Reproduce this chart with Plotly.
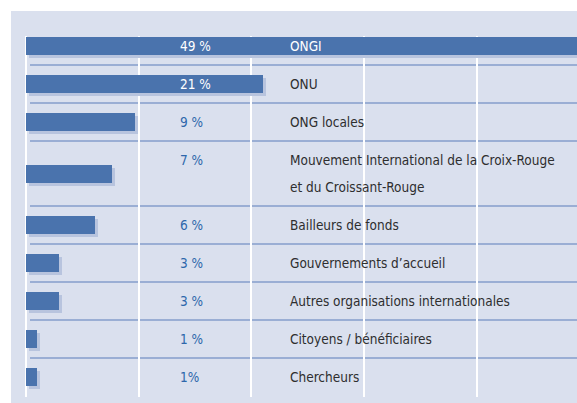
import plotly.graph_objects as go

# ---- data ----
categories = [
    "ONGI",
    "ONU",
    "ONG locales",
    "Mouvement International de la Croix-Rouge<br>et du Croissant-Rouge",
    "Bailleurs de fonds",
    "Gouvernements d’accueil",
    "Autres organisations internationales",
    "Citoyens / bénéficiaires",
    "Chercheurs",
]
values = [49, 21, 9.7, 7.6, 6.1, 2.9, 2.9, 1.0, 1.0]
value_labels = ["49 %", "21 %", "9 %", "7 %", "6 %", "3 %", "3 %", "1 %", "1%"]

# ---- layout geometry (pixels) ----
W, H = 577, 403
PANEL_X0, PANEL_Y0 = 11, 11
PLOT_X0 = 26
PX_PER_PCT = 11.27
X_MAX = (W - PLOT_X0) / PX_PER_PCT
Y_TOP, Y_BOT = 36, 397
FIRST_ROW_TOP = 27
LINE_H = 38
EXTRA_LINE_H = 27
BAR_H = 18
SHADOW = 3
PCT_X = 178
LABEL_X = 288

BG = "#dae0ee"
BAR = "#4a73ad"
SHADOW_C = "#b8c4de"
SEP = "#9aaed4"
PCT_BLUE = "#2d67ab"
TXT = "#2e2e2e"
FONT = "DejaVu Sans"
FS = 13.5

# rows
tops, heights = [], []
y = FIRST_ROW_TOP
for c in categories:
    n = c.count("<br>") + 1
    h = LINE_H + (n - 1) * EXTRA_LINE_H
    tops.append(y)
    heights.append(h)
    y += h
centers = [t + h / 2 for t, h in zip(tops, heights)]

sx = SHADOW / PX_PER_PCT

fig = go.Figure()
fig.add_trace(go.Bar(
    x=values, y=[c + SHADOW for c in centers], base=sx, orientation="h",
    width=BAR_H, marker=dict(color=SHADOW_C, line=dict(width=0)),
    hoverinfo="skip", showlegend=False,
))
fig.add_trace(go.Bar(
    x=values, y=centers, orientation="h",
    width=BAR_H, marker=dict(color=BAR, line=dict(width=0)),
    hovertemplate="%{x}<extra></extra>", showlegend=False,
))

shapes = [dict(type="rect", xref="paper", yref="paper",
               x0=PANEL_X0 / W, x1=1, y0=0, y1=1 - PANEL_Y0 / H,
               fillcolor=BG, line=dict(width=0), layer="below")]
for t in tops[1:]:
    shapes.append(dict(type="line", xref="paper", yref="y",
                       x0=30 / W, x1=1, y0=t, y1=t,
                       line=dict(color=SEP, width=2), layer="below"))

annotations = []
for c, t, v, lab in zip(categories, tops, values, value_labels):
    first_line = t + LINE_H / 2
    on_bar = PLOT_X0 + v * PX_PER_PCT > PCT_X + 30
    annotations.append(dict(
        x=PCT_X / W, xref="paper", y=first_line, yref="y",
        text=lab, showarrow=False, xanchor="left", yanchor="middle",
        font=dict(family=FONT, size=FS, color="white" if on_bar else PCT_BLUE)))
    on_bar2 = PLOT_X0 + v * PX_PER_PCT > LABEL_X + 30
    for k, line in enumerate(c.split("<br>")):
        annotations.append(dict(
            x=LABEL_X / W, xref="paper", y=first_line + k * EXTRA_LINE_H, yref="y",
            text=line, showarrow=False, xanchor="left", yanchor="middle",
            font=dict(family=FONT, size=FS, color="white" if on_bar2 else TXT)))

fig.update_layout(
    width=W, height=H,
    margin=dict(l=0, r=0, t=0, b=0),
    paper_bgcolor="white", plot_bgcolor="rgba(0,0,0,0)",
    barmode="overlay", bargap=0,
    xaxis=dict(domain=[PLOT_X0 / W, 1], range=[0, X_MAX], dtick=10,
               showgrid=True, gridcolor="white", gridwidth=2,
               zeroline=True, zerolinecolor="white", zerolinewidth=2,
               showticklabels=False, ticks="", fixedrange=True),
    yaxis=dict(domain=[(H - Y_BOT) / H, (H - Y_TOP) / H], range=[Y_BOT, Y_TOP],
               showgrid=False, zeroline=False, showticklabels=False,
               ticks="", fixedrange=True),
    shapes=shapes, annotations=annotations,
    font=dict(family=FONT, size=FS),
)
fig.write_html("out.html", config={"displayModeBar": False})

# remove default page margin and use the condensed face of the font
with open("out.html", encoding="utf-8") as f:
    html = f.read()
css = ("<style>html,body{margin:0;padding:0;overflow:hidden}"
       ".annotation-text{font-stretch:condensed;}</style>")
html = html.replace("<head>", "<head>" + css, 1)
with open("out.html", "w", encoding="utf-8") as f:
    f.write(html)
